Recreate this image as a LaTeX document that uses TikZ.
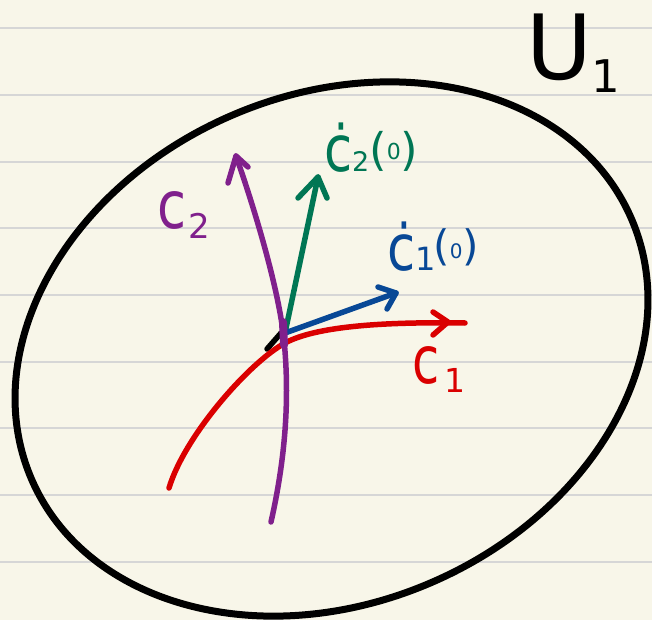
\documentclass[tikz,border=0pt]{standalone}
\usepackage{fontspec}
\setmainfont{DejaVu Sans}
\usepackage{graphicx}
\definecolor{paper}{RGB}{248,246,233}
\definecolor{rulegray}{RGB}{214,214,214}
\definecolor{cred}{RGB}{218,0,0}
\definecolor{cpurple}{RGB}{128,32,140}
\definecolor{cgreen}{RGB}{0,118,84}
\definecolor{cblue}{RGB}{8,72,150}
\newcommand\fsz[2]{{\fontsize{#1}{#1}\selectfont #2}}
\begin{document}
\begin{tikzpicture}[x=1pt,y=-1pt,
  stroke/.style={line width=5.5, line cap=round, line join=round},
  lbl/.style={inner sep=0, outer sep=0, anchor=base west}]
\fill[paper] (0,0) rectangle (652,620);
\useasboundingbox (0,0) rectangle (652,620);
\foreach \y in {28,95,162,228,295,362,428,495,562}
  \draw[rulegray, line width=2] (0,\y) -- (652,\y);
% region U1
\draw[line width=7, rotate around={23.65:(331.5,349)}] (331.5,349) ellipse [x radius=327, y radius=254];
% base point and tips
\coordinate (p) at (285,333);
\coordinate (gt) at (318,177);
\coordinate (bt) at (396,293);
% black wedge
\draw[stroke, black] (267,349) -- (281,333);
% green tangent vector
\draw[stroke, cgreen] (p) -- (gt);
\draw[stroke, cgreen] (298,198) -- (gt) -- (327,198);
% blue tangent vector
\draw[stroke, cblue] (p) -- (bt);
\draw[stroke, cblue] (378,287) -- (bt) -- (387,309);
% red curve c1
\coordinate (r0) at (169,488);
\coordinate (rm) at (285,343);
\coordinate (r1) at (465,323);
\coordinate (rt) at (448,322);
\draw[stroke, cred] (r0) .. controls (185,435) and (250,362) .. (rm)
  .. controls (320,324) and (400,322) .. (r1);
\draw[stroke, cred] (433,312) -- (rt) -- (433,335);
% purple curve c2
\coordinate (q0) at (271,522);
\coordinate (qm) at (284,340);
\coordinate (qt) at (236,156);
\draw[stroke, cpurple] (q0) .. controls (285,460) and (290,400) .. (qm)
  .. controls (279,290) and (255,210) .. (qt);
\draw[stroke, cpurple] (228,183) -- (qt) -- (248,167);
\draw[line width=8, line cap=round, cpurple] (283,322) -- (284,345);
% labels
\node[lbl] (u1) at (526,80) {\fsz{90}{U}\raisebox{-13pt}{\fsz{45}{1}}};
\node[lbl, text=cpurple] (c2) at (157,228) {\scalebox{0.8}[1]{\fsz{66}{c}}\kern2pt\raisebox{-10pt}{\fsz{34}{2}}};
\node[lbl, text=cred] (c1) at (412,383) {\scalebox{0.75}[1]{\fsz{66}{c}}\kern5pt\raisebox{-9pt}{\fsz{33}{1}}};
\node[lbl, text=cgreen] (dc2) at (324,172) {\scalebox{0.8}[1]{\fsz{64}{ċ}}\fsz{27}{2}\raisebox{6pt}{\fsz{45}{(}\raisebox{6pt}{\fsz{22}{0}}\fsz{45}{)}}};
\node[lbl, text=cblue] (dc1) at (387,270) {\scalebox{0.8}[1]{\fsz{64}{ċ}}\fsz{32}{1}\kern-2pt\raisebox{10pt}{\fsz{42}{(}\raisebox{2pt}{\fsz{20}{0}}\fsz{42}{)}}};
\end{tikzpicture}
\end{document}
